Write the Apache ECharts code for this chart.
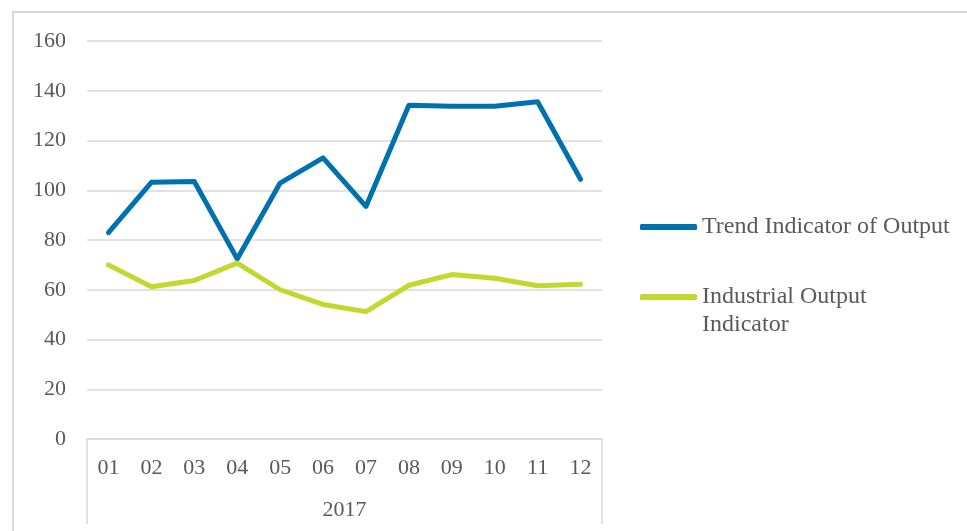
<!DOCTYPE html>
<html>
<head>
<meta charset="utf-8">
<script src="https://cdn.jsdelivr.net/npm/echarts@6/dist/echarts.min.js"></script>
<style>
html,body{margin:0;padding:0;background:#fff;}
#chart{width:967px;height:531px;}
</style>
</head>
<body>
<div id="chart"></div>
<script>
var categories = ['01','02','03','04','05','06','07','08','09','10','11','12'];
var yearLabels = ['2017'];
var trendIndicator = [83, 103.2, 103.5, 72.4, 102.9, 113, 93.5, 134.2, 133.8, 133.8, 135.6, 104.4];
var industrialIndicator = [70, 61.2, 63.7, 70.7, 60, 54.1, 51.2, 61.8, 66.1, 64.6, 61.6, 62.2];
var seriesNames = ['Trend Indicator of Output', 'Industrial Output Indicator'];

var textColor = '#595959';
var gridColor = '#d9d9d9';
var fontFam = '"Liberation Serif", "Times New Roman", serif';

var chart = echarts.init(document.getElementById('chart'), null, {renderer: 'canvas'});
chart.setOption({
  animation: false,
  backgroundColor: '#fff',
  graphic: [{
    type: 'rect',
    shape: {x: 13, y: 12, width: 970, height: 540},
    style: {fill: 'none', stroke: gridColor, lineWidth: 2},
    silent: true,
    z: -1
  }],
  grid: {left: 87, right: 365, top: 41, bottom: 92, containLabel: false},
  legend: [{
    data: [seriesNames[0]],
    orient: 'vertical',
    left: 635,
    top: 208,
    itemWidth: 57,
    itemHeight: 6,
    icon: 'roundRect',
    textStyle: {fontFamily: fontFam, fontSize: 24, color: textColor, lineHeight: 28},
    selectedMode: false
  }, {
    data: [seriesNames[1]],
    orient: 'vertical',
    left: 635,
    top: 250,
    itemWidth: 57,
    itemHeight: 6,
    icon: 'roundRect',
    formatter: function (n) { return '\nIndustrial Output\nIndicator'; },
    textStyle: {fontFamily: fontFam, fontSize: 24, color: textColor, lineHeight: 28},
    selectedMode: false
  }],
  xAxis: [{
    type: 'category',
    data: categories,
    boundaryGap: true,
    axisLine: {show: true, lineStyle: {color: gridColor, width: 1.5}},
    axisTick: {show: false},
    axisLabel: {fontFamily: fontFam, fontSize: 22, color: textColor, margin: 18, interval: 0}
  }, {
    type: 'category',
    data: yearLabels,
    position: 'bottom',
    boundaryGap: true,
    axisLine: {show: false},
    axisTick: {show: true, length: 85, lineStyle: {color: gridColor, width: 1.5}},
    axisLabel: {fontFamily: fontFam, fontSize: 22, color: textColor, margin: 60},
    splitLine: {show: false}
  }],
  yAxis: {
    type: 'value',
    min: 0,
    max: 160,
    interval: 20,
    axisLine: {show: false},
    axisTick: {show: false},
    axisLabel: {fontFamily: fontFam, fontSize: 22, color: textColor, margin: 21, padding: [5, 0, 0, 0]},
    splitLine: {lineStyle: {color: gridColor, width: 1.5}}
  },
  series: [{
    name: seriesNames[0],
    type: 'line',
    data: trendIndicator,
    xAxisIndex: 0,
    symbol: 'none',
    color: '#0071AF',
    lineStyle: {width: 5, color: '#0071AF', cap: 'round', join: 'round'}
  }, {
    name: seriesNames[1],
    type: 'line',
    data: industrialIndicator,
    xAxisIndex: 0,
    symbol: 'none',
    color: '#C3D82F',
    lineStyle: {width: 5, color: '#C3D82F', cap: 'round', join: 'round'}
  }]
});
</script>
</body>
</html>
